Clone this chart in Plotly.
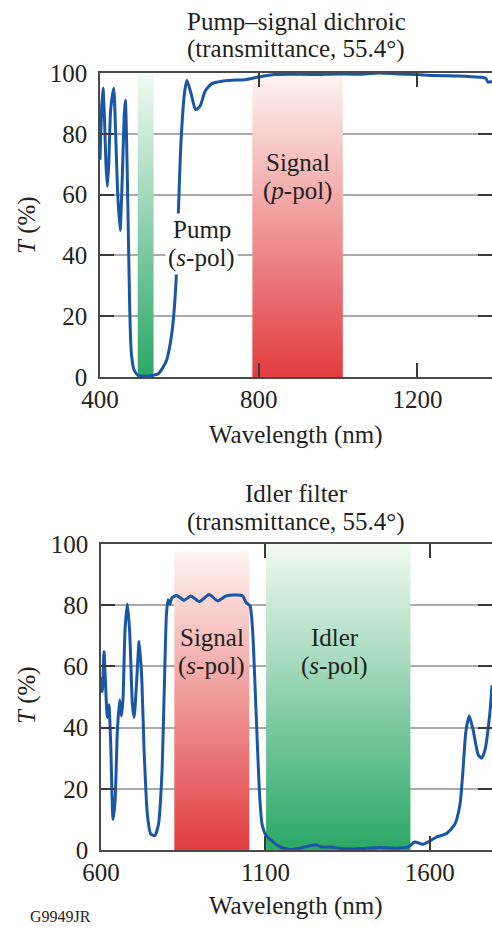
import plotly.graph_objects as go

# ---------------- data ----------------
# Top panel: Pump-signal dichroic (transmittance, 55.4 deg)
top_wl = [400, 404, 407.5, 411, 415, 418.6, 422, 427, 434.6, 439, 444, 450.6, 456, 461, 464, 467,
          470, 475, 479, 486, 496, 510, 522, 535, 547, 558, 568, 581, 591, 598, 604, 613, 619, 629,
          641, 652, 665, 682, 707, 732, 766, 800, 842, 880, 935, 1000, 1050, 1104, 1150, 1200,
          1239, 1300, 1357, 1372, 1378, 1388]
top_T = [71.5, 88, 95, 86, 70, 62.7, 70, 88, 95, 82, 62, 48.2, 65, 86, 91, 78,
         58, 22, 7.8, 2.3, 0.5, 0.3, 0.3, 0.6, 1.1, 3, 5.6, 14.4, 29.8, 56, 77, 93.5, 97.6, 93.5,
         88, 89, 94, 96.5, 97.3, 97.6, 97.8, 98.7, 99.5, 99.6, 99.5, 99.7, 99.6, 100, 99.7, 99.5,
         99.2, 99, 98.6, 98.3, 97, 97.2]

# Bottom panel: Idler filter (transmittance, 55.4 deg)
bot_wl = [600, 604, 609, 614, 619, 624, 629.5, 636.6, 642.7, 649.8, 656.9, 662, 667, 673, 680, 687,
          695.5, 700.6, 707.7, 716, 724, 731, 741, 751, 763.6, 774.8, 785, 792, 799, 804, 809.4,
          815.4, 829.7, 853, 873, 899, 929, 955, 980, 1010.6, 1031, 1041, 1053, 1061, 1071.5,
          1081.7, 1089.8, 1102, 1117, 1143, 1173, 1200, 1254, 1270, 1295, 1345, 1400, 1448, 1500,
          1534, 1554, 1580, 1620, 1651, 1676, 1691.5, 1699.6, 1709.8, 1720, 1732, 1747, 1757.5,
          1767.7, 1783, 1789]
bot_T = [56.5, 51.7, 64.9, 53.8, 43.3, 47.5, 34.8, 10, 15.8, 39, 49, 43.8, 49.5, 71.8, 80.4, 71.8,
         47.5, 43.3, 53.8, 68.1, 55.9, 32.7, 11.6, 5.3, 4.7, 8.4, 24.3, 50.7, 77, 81.8, 80.3,
         82.4, 83.2, 81.6, 83, 81.2, 83.5, 81.4, 83, 83.3, 83, 80.9, 79.8, 71.8, 45.3,
         19, 8.4, 4.7, 3.2, 1.1, 0.2, 0.5, 1.7, 1.0, 1.0, 0.3, 0.5, 0.8, 0.6,
         1, 2.6, 1.9, 4.2, 5.4, 8.4, 14.8, 24.3, 39, 43.8, 39, 31.1, 30,
         32.7, 45.3, 53.8]

# Wavelength bands (nm) and the height their shading reaches (%)
top_pump_band = [495, 535]
top_signal_band = [784, 1012]
bot_signal_band = [823, 1051]
bot_idler_band = [1102, 1541]
band_tops = {"top_pump": 99.5, "top_signal": 99.5, "bot_signal": 97.5, "bot_idler": 100}

y_ticks = [0, 20, 40, 60, 80, 100]
top_x_ticks = [400, 800, 1200]
bot_x_ticks = [600, 1100, 1600]

# ---------------- style ----------------
FONT = "Liberation Serif"
FS = 25
TXT = "#231f20"
BLUE = "#1a56a6"
RED = "#e23c3f"
RED_TOP = "#fdf4f1"
GREEN = "#2aa866"
GREEN_TOP = "#f2f9f4"

W, H = 492, 930


def band(x0, x1, top, c_bot, c_top, xa, ya):
    return go.Scatter(
        x=[x0, x1, x1, x0, x0], y=[0, 0, top, top, 0],
        mode="lines", line=dict(width=0), fill="toself",
        fillgradient=dict(type="vertical", colorscale=[[0, c_bot], [1, c_top]]),
        hoverinfo="skip", showlegend=False, xaxis=xa, yaxis=ya,
    )


fig = go.Figure()
fig.add_trace(band(*top_pump_band, band_tops["top_pump"], GREEN, GREEN_TOP, "x", "y"))
fig.add_trace(band(*top_signal_band, band_tops["top_signal"], RED, RED_TOP, "x", "y"))
fig.add_trace(band(*bot_signal_band, band_tops["bot_signal"], RED, RED_TOP, "x2", "y2"))
fig.add_trace(band(*bot_idler_band, band_tops["bot_idler"], GREEN, GREEN_TOP, "x2", "y2"))

fig.add_trace(go.Scatter(x=top_wl, y=top_T, mode="lines",
                         line=dict(color=BLUE, width=3, shape="spline", smoothing=0.6),
                         showlegend=False, xaxis="x", yaxis="y"))
fig.add_trace(go.Scatter(x=bot_wl, y=bot_T, mode="lines",
                         line=dict(color=BLUE, width=3, shape="spline", smoothing=0.6),
                         showlegend=False, xaxis="x2", yaxis="y2"))

tickfont = dict(family=FONT, size=FS, color=TXT)
axis_common = dict(showline=True, linecolor="#4a4a4a", linewidth=1.5, mirror="ticks",
                   ticks="inside", ticklen=14, tickwidth=1.5, tickcolor="#3a3a3a",
                   tickfont=tickfont, zeroline=False, automargin=False)


def py(p):  # pixel from top -> paper y
    return 1 - p / H


def px(p):
    return p / W


fig.update_layout(
    template="none",
    width=W, height=H, margin=dict(l=0, r=0, t=0, b=0, pad=0),
    paper_bgcolor="white", plot_bgcolor="white", showlegend=False,
    xaxis=dict(domain=[px(100), 1], range=[400, 1388], tickvals=top_x_ticks, showgrid=False,
               anchor="y", ticklabelstandoff=-1, **axis_common),
    yaxis=dict(domain=[py(377), py(73)], range=[0, 100], tickvals=y_ticks, showgrid=True,
               gridcolor="#ababab", gridwidth=1.5, anchor="x", ticklabelstandoff=6, **axis_common),
    xaxis2=dict(domain=[px(101), 1], range=[600, 1789], tickvals=bot_x_ticks, showgrid=False,
                anchor="y2", ticklabelstandoff=-1, **axis_common),
    yaxis2=dict(domain=[py(850), py(544)], range=[0, 100], tickvals=y_ticks, showgrid=True,
                gridcolor="#ababab", gridwidth=1.5, anchor="x2", ticklabelstandoff=6, **axis_common),
)

ann = []


def text(x, y, s, xref="paper", yref="paper", size=FS, **kw):
    ann.append(dict(x=x, y=y, xref=xref, yref=yref, text=s, showarrow=False,
                    font=dict(family=FONT, size=size, color=TXT), **kw))


cx = px((100 + 492) / 2)
# titles
text(cx, py(21), "Pump–signal dichroic", yanchor="middle")
text(cx, py(49), "(transmittance, 55.4°)", yanchor="middle")
text(cx, py(493), "Idler filter", yanchor="middle")
text(cx, py(522), "(transmittance, 55.4°)", yanchor="middle")
# x titles
text(cx, py(435), "Wavelength (nm)", yanchor="middle")
text(cx, py(906), "Wavelength (nm)", yanchor="middle")
# y titles
text(px(27), py(225), "<i>T</i> (%)", textangle=-90, xanchor="center", yanchor="middle")
text(px(27), py(695), "<i>T</i> (%)", textangle=-90, xanchor="center", yanchor="middle")
# band labels (one annotation per line to match the tighter line spacing)
text(657, 48.5, "Pump", xref="x", yref="y", bgcolor="white", borderpad=2, yanchor="middle")
text(657, 39.0, "(<i>s</i>-pol)", xref="x", yref="y", bgcolor="white", borderpad=2,
     yanchor="middle")
text(899, 70.5, "Signal", xref="x", yref="y", yanchor="middle")
text(899, 61.3, "(<i>p</i>-pol)", xref="x", yref="y", yanchor="middle")
text(937, 69.5, "Signal", xref="x2", yref="y2", yanchor="middle")
text(937, 60.0, "(<i>s</i>-pol)", xref="x2", yref="y2", yanchor="middle")
text(1311, 69.5, "Idler", xref="x2", yref="y2", yanchor="middle")
text(1311, 60.0, "(<i>s</i>-pol)", xref="x2", yref="y2", yanchor="middle")
# figure id
text(px(28), py(916), "G9949JR", size=16, xanchor="left", yanchor="middle")

fig.update_layout(annotations=ann)
fig.write_html("out.html")
